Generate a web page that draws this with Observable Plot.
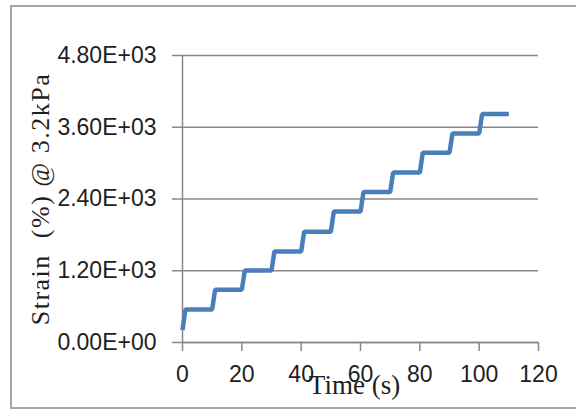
<!DOCTYPE html>
<html>
<head>
<meta charset="utf-8">
<script src="https://cdn.jsdelivr.net/npm/d3@7"></script>
<script src="https://cdn.jsdelivr.net/npm/@observablehq/plot@0.6"></script>
<style>
  html, body { margin: 0; padding: 0; background: #fff; }
  #wrap { position: relative; width: 576px; height: 412px; overflow: hidden; }
  #frame { position: absolute; left: 10px; top: 5px; width: 600px; height: 404px; border: 2px solid #a6a6a6; border-right: none; box-sizing: border-box; }
  #chart { position: absolute; left: 0; top: 0; }
</style>
</head>
<body>
<div id="wrap"><div id="frame"></div><div id="chart"></div></div>
<script>
const time   = [0, 1, 10, 11, 20, 21, 30, 31, 40, 41, 50, 51, 60, 61, 70, 71, 80, 81, 90, 91, 100, 101, 110];
const strain = [206, 554, 554, 882, 882, 1205, 1205, 1523, 1523, 1851, 1851, 2189, 2189, 2515, 2515, 2842, 2842, 3175, 3175, 3496, 3496, 3822, 3822];
const xTicks = [0, 20, 40, 60, 80, 100, 120];
const yTicks = [0, 1200, 2400, 3600, 4800];
const yTickLabels = ["0.00E+00", "1.20E+03", "2.40E+03", "3.60E+03", "4.80E+03"];
const xTitle = "Time (s)";
const yTitle = "Strain  (%) @ 3.2kPa";

const data = time.map((t, i) => ({t, v: strain[i]}));
const tickFont = "Liberation Sans, Arial, sans-serif";
const titleFont = "Liberation Serif, Times New Roman, serif";

const plot = Plot.plot({
  width: 576,
  height: 412,
  marginLeft: 182,
  marginRight: 38,
  marginTop: 55,
  marginBottom: 70,
  style: {background: "transparent", fontFamily: tickFont, color: "#222"},
  x: {domain: [0, 120]},
  y: {domain: [0, 4800]},
  marks: [
    Plot.gridY(yTicks, {stroke: "#888", strokeOpacity: 1, strokeWidth: 1.5}),
    Plot.ruleX([0], {stroke: "#888", strokeWidth: 1.5}),
    Plot.ruleY([0], {stroke: "#888", strokeWidth: 1.5}),
    Plot.axisY({ticks: yTicks, tickFormat: d => yTickLabels[yTicks.indexOf(d)], tickSize: 10, tickPadding: 16, stroke: "#888", strokeWidth: 1.5, fontSize: 23, fill: "#1e1e1e", label: null}),
    Plot.axisX({ticks: xTicks, tickSize: 9, tickPadding: 14, stroke: "#888", strokeWidth: 1.5, fontSize: 23, fill: "#1e1e1e", label: null}),
    Plot.line(data, {x: "t", y: "v", stroke: "#4a7ebb", strokeWidth: 4.5, strokeLinejoin: "miter", strokeLinecap: "butt"}),
    Plot.text([yTitle], {frameAnchor: "left", rotate: -90, dx: -142, fontFamily: titleFont, fontSize: 26, fill: "#1e1e1e", textAnchor: "middle", style: "letter-spacing:1.5px"}),
    Plot.text([xTitle], {frameAnchor: "bottom", dx: -6, dy: 43, fontFamily: titleFont, fontSize: 27, fill: "#1e1e1e", textAnchor: "middle", lineAnchor: "middle"})
  ]
});
plot.querySelectorAll("text").forEach(t => { if (t.textContent === yTitle) t.style.letterSpacing = "1.5px"; });
document.getElementById("chart").appendChild(plot);
</script>
</body>
</html>
